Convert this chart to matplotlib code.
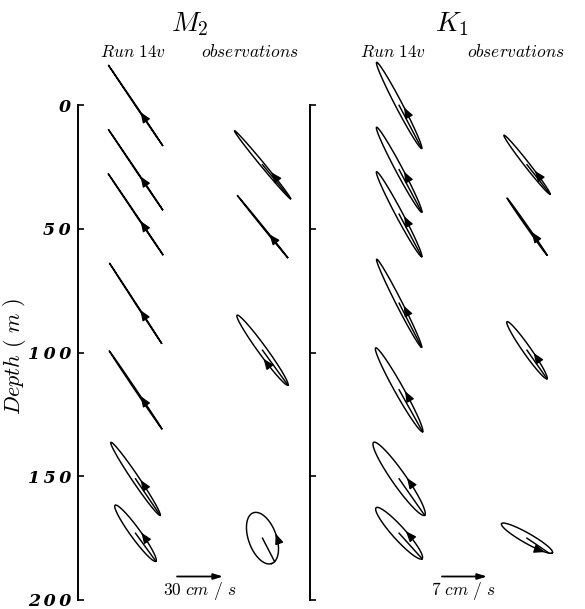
import numpy as np
import matplotlib
matplotlib.use('Agg')
import matplotlib.pyplot as plt
from matplotlib.transforms import Affine2D, ScaledTranslation

plt.rcParams['mathtext.fontset'] = 'cm'

# depths of the ellipses (m)
run_depth = [0, 26, 44, 80, 115, 151, 173]
obs_depth = [24, 49, 99, 175]

# M2 (cm/s, deg): semi-major, semi-minor, inclination, phase point, arrow point, sense (+1 ccw)
m2_run_major = [31.5, 31.5, 31.8, 31.1, 30.6, 28.7, 22.6]
m2_run_minor = [0.2, 0.2, 0.2, 0.2, 0.4, 2.3, 3.3]
m2_run_inc = [-56, -56, -56, -57, -56, -56, -54]
m2_run_phase = [0, 0, 0, 0, 0, 0, 0]
m2_run_arrow = [80, 80, 80, 80, 80, 85, 85]
m2_run_sense = [1, 1, 1, 1, 1, 1, 1]

m2_obs_major = [28.7, 26.0, 28.2, 17.6]
m2_obs_minor = [1.3, 0.3, 2.8, 9.1]
m2_obs_inc = [-50.5, -51, -54, -70]
m2_obs_phase = [0, 0, 0, 14]
m2_obs_arrow = [75, 75, -80, 90]
m2_obs_sense = [1, 1, -1, 1]

# K1
k1_run_major = [7.54, 7.47, 7.47, 7.68, 7.47, 6.92, 5.34]
k1_run_minor = [0.54, 0.54, 0.54, 0.47, 0.70, 1.09, 1.0]
k1_run_inc = [-62.4, -62, -62, -63, -60.8, -55, -48]
k1_run_phase = [0, 0, 0, 0, 0, 0, 0]
k1_run_arrow = [85, 85, 85, 85, 85, 85, 85]
k1_run_sense = [1, 1, 1, 1, 1, 1, 1]

k1_obs_major = [5.82, 5.41, 5.41, 4.56]
k1_obs_minor = [0.39, 0.12, 0.62, 0.78]
k1_obs_inc = [-52, -55, -55, -29.6]
k1_obs_phase = [0, 0, 0, -25]
k1_obs_arrow = [75, 78, 80, -40]
k1_obs_sense = [1, 1, 1, 1]

m2_scale_speed = 30   # cm/s
k1_scale_speed = 7
m2_inch_per_unit = 0.46 / 30
k1_inch_per_unit = 0.45 / 7

depth_ticks = [0, 50, 100, 150, 200]
depth_ticklabels = ['0', '5\u20090', '1\u20090\u20090', '1\u20095\u20090', '2\u20090\u20090']

fig = plt.figure(figsize=(5.85, 6.09), dpi=100)
ax1 = fig.add_axes([78 / 585, 9 / 609, 222 / 585, 494.7 / 609])
ax2 = fig.add_axes([310 / 585, 9 / 609, 275 / 585, 494.7 / 609])

for ax in (ax1, ax2):
    ax.set_xlim(0, 1)
    ax.set_ylim(200, 0)
    for s in ('top', 'right', 'bottom'):
        ax.spines[s].set_visible(False)
    ax.spines['left'].set_linewidth(1.4)
    ax.set_xticks([])
    ax.set_yticks(depth_ticks)
    ax.tick_params(axis='y', direction='in', length=4, width=1.2, pad=5)
    ax.patch.set_visible(False)

ax1.set_yticklabels(depth_ticklabels, fontfamily='DejaVu Serif', fontstyle='italic',
                    fontweight='bold', fontsize=12.5)
ax2.set_yticklabels([])


def vel_trans(ax, x0, depth, inch_per_unit):
    return (Affine2D().scale(inch_per_unit) + fig.dpi_scale_trans
            + ScaledTranslation(x0, depth, ax.transData))


def ellipse_pt(t, major, minor, inc):
    th = np.radians(inc)
    xe, ye = major * np.cos(t), minor * np.sin(t)
    return xe * np.cos(th) - ye * np.sin(th), xe * np.sin(th) + ye * np.cos(th)


def draw_ellipse(ax, x0, depth, major, minor, inc, phase, arrow, sense, ipu):
    tr = vel_trans(ax, x0, depth, ipu)
    t = np.linspace(0, 2 * np.pi, 300)
    u, v = ellipse_pt(t, major, minor, inc)
    ax.plot(u, v, transform=tr, color='k', lw=1.05, clip_on=False)
    pu, pv = ellipse_pt(np.radians(phase), major, minor, inc)
    ax.plot([0, pu], [0, pv], transform=tr, color='k', lw=1.05, clip_on=False)
    ta = np.radians(arrow)
    au, av = ellipse_pt(ta, major, minor, inc)
    th = np.radians(inc)
    du = -major * np.sin(ta)
    dv = minor * np.cos(ta)
    tu = du * np.cos(th) - dv * np.sin(th)
    tv = du * np.sin(th) + dv * np.cos(th)
    n = np.hypot(tu, tv)
    step = 0.08 / ipu  # ~8 px back along the tangent
    bu = au - sense * tu / n * step
    bv = av - sense * tv / n * step
    ax.annotate('', xy=(au, av), xytext=(bu, bv), xycoords=tr, textcoords=tr,
                arrowprops=dict(arrowstyle='-|>,head_length=0.8,head_width=0.32',
                                color='k', lw=0.9, mutation_scale=8,
                                shrinkA=0, shrinkB=0),
                annotation_clip=False)


# M2 panel
for i in range(len(run_depth)):
    draw_ellipse(ax1, 0.259, run_depth[i], m2_run_major[i], m2_run_minor[i], m2_run_inc[i],
                 m2_run_phase[i], m2_run_arrow[i], m2_run_sense[i], m2_inch_per_unit)
for i in range(len(obs_depth)):
    draw_ellipse(ax1, 0.831, obs_depth[i], m2_obs_major[i], m2_obs_minor[i], m2_obs_inc[i],
                 m2_obs_phase[i], m2_obs_arrow[i], m2_obs_sense[i], m2_inch_per_unit)

# K1 panel
for i in range(len(run_depth)):
    draw_ellipse(ax2, 0.324, run_depth[i], k1_run_major[i], k1_run_minor[i], k1_run_inc[i],
                 k1_run_phase[i], k1_run_arrow[i], k1_run_sense[i], k1_inch_per_unit)
for i in range(len(obs_depth)):
    draw_ellipse(ax2, 0.789, obs_depth[i], k1_obs_major[i], k1_obs_minor[i], k1_obs_inc[i],
                 k1_obs_phase[i], k1_obs_arrow[i], k1_obs_sense[i], k1_inch_per_unit)

# scale arrows
for ax, x0, spd, ipu, lab, xl in ((ax1, 0.446, m2_scale_speed, m2_inch_per_unit, r'$\mathit{30\ cm\ /\ s}$', 0.550),
                                  (ax2, 0.480, k1_scale_speed, k1_inch_per_unit, r'$\mathit{7\ cm\ /\ s}$', 0.556)):
    tr = vel_trans(ax, x0, 190.5, ipu)
    ax.annotate('', xy=(spd, 0), xytext=(0, 0), xycoords=tr, textcoords=tr,
                arrowprops=dict(arrowstyle='-|>,head_length=0.8,head_width=0.25',
                                color='k', lw=1.3, mutation_scale=7,
                                shrinkA=0, shrinkB=0),
                annotation_clip=False)
    ax.text(xl, 196.5, lab, ha='center', va='center', fontsize=12.5, clip_on=False)

# titles and column labels
fig.text(190 / 585, 1 - 24 / 609, r'$M_2$', ha='center', va='center', fontsize=20)
fig.text(452 / 585, 1 - 24 / 609, r'$K_1$', ha='center', va='center', fontsize=20)
for xc, lab in ((133, r'$\mathit{Run\ 14v}$'), (250, r'$\mathit{observations}$'),
                (393, r'$\mathit{Run\ 14v}$'), (516, r'$\mathit{observations}$')):
    fig.text(xc / 585, 1 - 52 / 609, lab, ha='center', va='center', fontsize=12.5)

fig.text(15 / 585, 1 - 357 / 609, r'$\mathit{Depth\ (\ m\ )}$', rotation=90,
         ha='center', va='center', fontsize=16)

fig.savefig('out.png', dpi=100)
